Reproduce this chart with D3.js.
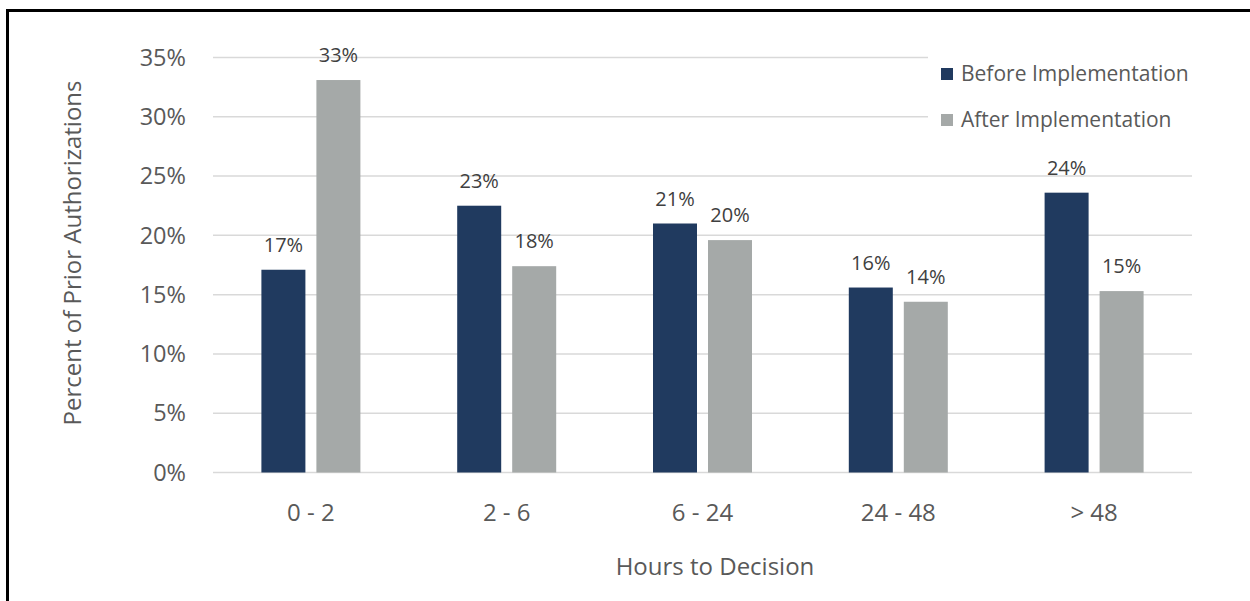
<!DOCTYPE html>
<html>
<head>
<meta charset="utf-8">
<script src="https://cdn.jsdelivr.net/npm/d3@7"></script>
<style>
    body { margin: 0; background: #fff; }
    text { font-family: 'Open Sans', sans-serif; }
</style>
</head>
<body>
<svg id="chart" width="1250" height="601"></svg>
<script>
'use strict';

const categories = ['0 - 2', '2 - 6', '6 - 24', '24 - 48', '> 48'];
const seriesNames = ['Before Implementation', 'After Implementation'];
const beforeValues = [17.1, 22.5, 21.0, 15.6, 23.6];
const afterValues = [33.1, 17.4, 19.6, 14.4, 15.3];
const beforeLabels = ['17%', '23%', '21%', '16%', '24%'];
const afterLabels = ['33%', '18%', '20%', '14%', '15%'];
const yTicks = [0, 5, 10, 15, 20, 25, 30, 35];

const COLORS = ['#203a5f', '#a5a9a8'];

const plotChart = () => {
    const vis = d3.select('#chart');

    // frame around the picture
    vis.append('rect')
        .attr('x', 7.5)
        .attr('y', 10.5)
        .attr('width', 1300)
        .attr('height', 700)
        .attr('fill', 'none')
        .attr('stroke', '#000')
        .attr('stroke-width', 3);

    const x0 = d3.scaleBand()
        .domain(categories)
        .range([213, 1192]);

    const x1 = d3.scaleBand()
        .domain(seriesNames)
        .range([0, 99])
        .paddingInner(0.2);

    const groupOffset = (x0.bandwidth() - 99) / 2;

    const y = d3.scaleLinear()
        .domain([0, 35])
        .range([472.5, 57.5]);

    // gridlines
    vis.append('g')
        .selectAll('line')
        .data(yTicks)
        .enter().append('line')
        .attr('x1', 213)
        .attr('x2', 1192)
        .attr('y1', d => y(d))
        .attr('y2', d => y(d))
        .attr('stroke', '#d9d9d9')
        .attr('stroke-width', 1.5);

    // y tick labels
    vis.append('g')
        .selectAll('text')
        .data(yTicks)
        .enter().append('text')
        .attr('x', 186)
        .attr('y', d => y(d))
        .attr('dy', '0.35em')
        .attr('text-anchor', 'end')
        .attr('font-size', 23.5)
        .attr('fill', '#595959')
        .text(d => `${d}%`);

    // bars
    const rows = categories.map((c, i) => ({
        category: c,
        values: [
            {series: seriesNames[0], value: beforeValues[i], label: beforeLabels[i]},
            {series: seriesNames[1], value: afterValues[i], label: afterLabels[i]}
        ]
    }));

    const groups = vis.append('g')
        .selectAll('g')
        .data(rows)
        .enter().append('g')
        .attr('transform', d => `translate(${x0(d.category) + groupOffset},0)`);

    groups.selectAll('rect')
        .data(d => d.values)
        .enter().append('rect')
        .attr('x', d => x1(d.series))
        .attr('y', d => y(d.value))
        .attr('width', x1.bandwidth())
        .attr('height', d => y(0) - y(d.value))
        .attr('fill', (d, i) => COLORS[i]);

    groups.selectAll('text')
        .data(d => d.values)
        .enter().append('text')
        .attr('x', d => x1(d.series) + x1.bandwidth() / 2)
        .attr('y', d => y(d.value) - 18)
        .attr('text-anchor', 'middle')
        .attr('font-size', 20)
        .attr('fill', '#404040')
        .text(d => d.label);

    // category labels
    vis.append('g')
        .selectAll('text')
        .data(categories)
        .enter().append('text')
        .attr('x', d => x0(d) + x0.bandwidth() / 2)
        .attr('y', 521)
        .attr('text-anchor', 'middle')
        .attr('font-size', 24)
        .attr('fill', '#595959')
        .text(d => d);

    // axis titles
    vis.append('text')
        .attr('x', 715)
        .attr('y', 575)
        .attr('text-anchor', 'middle')
        .attr('font-size', 24)
        .attr('fill', '#595959')
        .text('Hours to Decision');

    vis.append('text')
        .attr('transform', 'translate(81,253) rotate(-90)')
        .attr('text-anchor', 'middle')
        .attr('font-size', 24)
        .attr('fill', '#595959')
        .text('Percent of Prior Authorizations');

    // legend, with a white box that hides the gridlines behind it
    vis.append('rect')
        .attr('x', 928)
        .attr('y', 50)
        .attr('width', 264)
        .attr('height', 88)
        .attr('fill', '#fff');

    const legend = vis.append('g')
        .selectAll('g')
        .data(seriesNames)
        .enter().append('g')
        .attr('transform', (d, i) => `translate(941,${74 + i * 46})`);

    legend.append('rect')
        .attr('x', 0)
        .attr('y', -6)
        .attr('width', 12)
        .attr('height', 12)
        .attr('fill', (d, i) => COLORS[i]);

    legend.append('text')
        .attr('x', 20)
        .attr('y', 0)
        .attr('dy', '0.35em')
        .attr('font-size', 21)
        .attr('fill', '#595959')
        .text(d => d);
};

plotChart();
</script>
</body>
</html>
